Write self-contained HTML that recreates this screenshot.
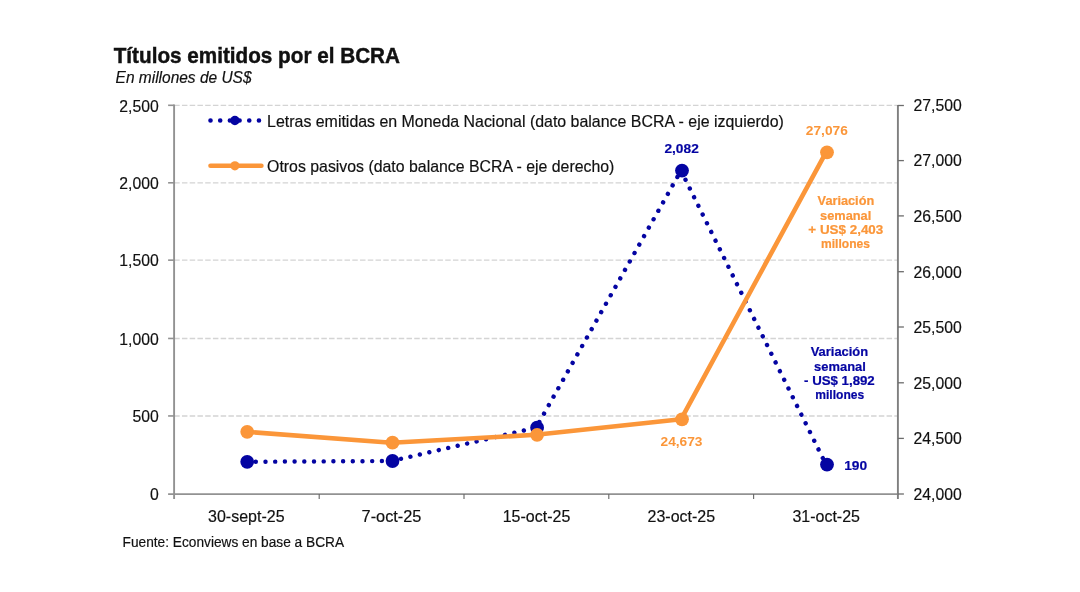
<!DOCTYPE html>
<html lang="es"><head><meta charset="utf-8"><title>Títulos emitidos por el BCRA</title>
<style>html,body{margin:0;padding:0;background:#fff;}body{width:1080px;height:592px;overflow:hidden;font-family:"Liberation Sans",sans-serif;}svg{display:block;}text{font-family:"Liberation Sans",sans-serif;}</style></head><body>
<svg width="1080" height="592" viewBox="0 0 1080 592">
<rect width="1080" height="592" fill="#fff"/>
<line x1="174.2" y1="415.95" x2="897.9" y2="415.95" stroke="#D4D4D4" stroke-width="1.35" stroke-dasharray="5.5 2.243"/>
<line x1="174.2" y1="338.45" x2="897.9" y2="338.45" stroke="#D4D4D4" stroke-width="1.35" stroke-dasharray="5.5 2.243"/>
<line x1="174.2" y1="260.15" x2="897.9" y2="260.15" stroke="#D4D4D4" stroke-width="1.35" stroke-dasharray="5.5 2.243"/>
<line x1="174.2" y1="182.80" x2="897.9" y2="182.80" stroke="#D4D4D4" stroke-width="1.35" stroke-dasharray="5.5 2.243"/>
<line x1="174.2" y1="105.30" x2="897.9" y2="105.30" stroke="#D4D4D4" stroke-width="1.35" stroke-dasharray="5.5 2.243"/>
<line x1="174.1" y1="104.60" x2="174.1" y2="498.90" stroke="#929292" stroke-width="1.9"/>
<line x1="168.1" y1="494.1" x2="897.9" y2="494.1" stroke="#929292" stroke-width="1.9"/>
<line x1="897.9" y1="104.90" x2="897.9" y2="498.90" stroke="#7F7F7F" stroke-width="1.9"/>
<line x1="168.1" y1="415.95" x2="174.1" y2="415.95" stroke="#929292" stroke-width="1.6"/>
<line x1="168.1" y1="338.45" x2="174.1" y2="338.45" stroke="#929292" stroke-width="1.6"/>
<line x1="168.1" y1="260.15" x2="174.1" y2="260.15" stroke="#929292" stroke-width="1.6"/>
<line x1="168.1" y1="182.80" x2="174.1" y2="182.80" stroke="#929292" stroke-width="1.6"/>
<line x1="168.1" y1="105.30" x2="174.1" y2="105.30" stroke="#929292" stroke-width="1.6"/>
<line x1="897.9" y1="494.00" x2="903.9" y2="494.00" stroke="#6C6C6C" stroke-width="1.3"/>
<line x1="897.9" y1="438.40" x2="903.9" y2="438.40" stroke="#6C6C6C" stroke-width="1.3"/>
<line x1="897.9" y1="382.80" x2="903.9" y2="382.80" stroke="#6C6C6C" stroke-width="1.3"/>
<line x1="897.9" y1="327.00" x2="903.9" y2="327.00" stroke="#6C6C6C" stroke-width="1.3"/>
<line x1="897.9" y1="271.70" x2="903.9" y2="271.70" stroke="#6C6C6C" stroke-width="1.3"/>
<line x1="897.9" y1="215.90" x2="903.9" y2="215.90" stroke="#6C6C6C" stroke-width="1.3"/>
<line x1="897.9" y1="160.60" x2="903.9" y2="160.60" stroke="#6C6C6C" stroke-width="1.3"/>
<line x1="897.9" y1="105.50" x2="903.9" y2="105.50" stroke="#6C6C6C" stroke-width="1.3"/>
<line x1="319.20" y1="494.1" x2="319.20" y2="498.90000000000003" stroke="#6A6A6A" stroke-width="1.15"/>
<line x1="464.00" y1="494.1" x2="464.00" y2="498.90000000000003" stroke="#6A6A6A" stroke-width="1.15"/>
<line x1="608.80" y1="494.1" x2="608.80" y2="498.90000000000003" stroke="#6A6A6A" stroke-width="1.15"/>
<line x1="753.60" y1="494.1" x2="753.60" y2="498.90000000000003" stroke="#6A6A6A" stroke-width="1.15"/>
<line x1="246.20" y1="461.80" x2="391.50" y2="461.00" stroke="#0404A2" stroke-width="4.45" stroke-linecap="round" stroke-dasharray="0.01 9.69" stroke-dashoffset="-9.6"/>
<line x1="391.50" y1="461.00" x2="536.10" y2="427.70" stroke="#0404A2" stroke-width="4.45" stroke-linecap="round" stroke-dasharray="0.01 9.69" stroke-dashoffset="-9.7"/>
<line x1="536.10" y1="427.70" x2="681.00" y2="170.60" stroke="#0404A2" stroke-width="4.45" stroke-linecap="round" stroke-dasharray="0.01 9.69" stroke-dashoffset="-6.5"/>
<line x1="681.00" y1="170.60" x2="826.00" y2="464.60" stroke="#0404A2" stroke-width="4.45" stroke-linecap="round" stroke-dasharray="0.01 9.69" stroke-dashoffset="-10.2"/>
<circle cx="247.20" cy="461.80" r="6.9" fill="#0404A2"/>
<circle cx="392.50" cy="461.00" r="6.9" fill="#0404A2"/>
<circle cx="537.10" cy="427.70" r="6.9" fill="#0404A2"/>
<circle cx="682.00" cy="170.60" r="6.9" fill="#0404A2"/>
<circle cx="827.00" cy="464.60" r="6.9" fill="#0404A2"/>
<polyline points="246.20,431.80 391.50,442.70 536.10,434.80 681.00,419.30 826.00,152.30" fill="none" stroke="#FB9639" stroke-width="4.6" stroke-linecap="round" stroke-linejoin="round"/>
<circle cx="247.20" cy="431.80" r="6.9" fill="#FB9639"/>
<circle cx="392.50" cy="442.70" r="6.9" fill="#FB9639"/>
<circle cx="537.10" cy="434.80" r="6.9" fill="#FB9639"/>
<circle cx="682.00" cy="419.30" r="6.9" fill="#FB9639"/>
<circle cx="827.00" cy="152.30" r="6.9" fill="#FB9639"/>
<line x1="210.5" y1="120.5" x2="260" y2="120.5" stroke="#0404A2" stroke-width="4.6" stroke-linecap="round" stroke-dasharray="0.01 9.68"/>
<circle cx="234.9" cy="120.5" r="4.7" fill="#0404A2"/>
<line x1="210.5" y1="165.8" x2="261.4" y2="165.8" stroke="#FB9639" stroke-width="4.6" stroke-linecap="round"/>
<circle cx="234.9" cy="165.8" r="4.6" fill="#FB9639"/>
<text transform="translate(267.10 126.80) scale(0.7966 0.8000)" font-size="20" text-anchor="start" fill="#111" stroke="#111" stroke-width="0.22">Letras emitidas en Moneda Nacional (dato balance BCRA - eje izquierdo)</text>
<text transform="translate(267.10 172.00) scale(0.7936 0.8000)" font-size="20" text-anchor="start" fill="#111" stroke="#111" stroke-width="0.22">Otros pasivos (dato balance BCRA - eje derecho)</text>
<text transform="translate(113.70 62.60) scale(1.0348 1.0650)" font-size="20" text-anchor="start" fill="#111" font-weight="bold" stroke="#111" stroke-width="0.42">Títulos emitidos por el BCRA</text>
<text transform="translate(115.60 82.90) scale(0.7743 0.8000)" font-size="20" text-anchor="start" fill="#111" font-style="italic" stroke="#111" stroke-width="0.22">En millones de US$</text>
<text transform="translate(158.70 500.40) scale(0.7880 0.8500)" font-size="20" text-anchor="end" fill="#111" stroke="#111" stroke-width="0.21">0</text>
<text transform="translate(158.70 422.25) scale(0.7880 0.8500)" font-size="20" text-anchor="end" fill="#111" stroke="#111" stroke-width="0.21">500</text>
<text transform="translate(158.70 344.75) scale(0.7880 0.8500)" font-size="20" text-anchor="end" fill="#111" stroke="#111" stroke-width="0.21">1,000</text>
<text transform="translate(158.70 266.45) scale(0.7880 0.8500)" font-size="20" text-anchor="end" fill="#111" stroke="#111" stroke-width="0.21">1,500</text>
<text transform="translate(158.70 189.10) scale(0.7880 0.8500)" font-size="20" text-anchor="end" fill="#111" stroke="#111" stroke-width="0.21">2,000</text>
<text transform="translate(158.70 111.60) scale(0.7880 0.8500)" font-size="20" text-anchor="end" fill="#111" stroke="#111" stroke-width="0.21">2,500</text>
<text transform="translate(913.60 499.80) scale(0.7880 0.8350)" font-size="20" text-anchor="start" fill="#111" stroke="#111" stroke-width="0.22">24,000</text>
<text transform="translate(913.60 444.20) scale(0.7880 0.8350)" font-size="20" text-anchor="start" fill="#111" stroke="#111" stroke-width="0.22">24,500</text>
<text transform="translate(913.60 388.60) scale(0.7880 0.8350)" font-size="20" text-anchor="start" fill="#111" stroke="#111" stroke-width="0.22">25,000</text>
<text transform="translate(913.60 332.80) scale(0.7880 0.8350)" font-size="20" text-anchor="start" fill="#111" stroke="#111" stroke-width="0.22">25,500</text>
<text transform="translate(913.60 277.50) scale(0.7880 0.8350)" font-size="20" text-anchor="start" fill="#111" stroke="#111" stroke-width="0.22">26,000</text>
<text transform="translate(913.60 221.70) scale(0.7880 0.8350)" font-size="20" text-anchor="start" fill="#111" stroke="#111" stroke-width="0.22">26,500</text>
<text transform="translate(913.60 166.40) scale(0.7880 0.8350)" font-size="20" text-anchor="start" fill="#111" stroke="#111" stroke-width="0.22">27,000</text>
<text transform="translate(913.60 111.30) scale(0.7880 0.8350)" font-size="20" text-anchor="start" fill="#111" stroke="#111" stroke-width="0.22">27,500</text>
<text transform="translate(246.30 521.80) scale(0.8000 0.8150)" font-size="20" text-anchor="middle" fill="#111" stroke="#111" stroke-width="0.22">30-sept-25</text>
<text transform="translate(391.50 521.80) scale(0.8160 0.8150)" font-size="20" text-anchor="middle" fill="#111" stroke="#111" stroke-width="0.22">7-oct-25</text>
<text transform="translate(536.50 521.80) scale(0.8000 0.8150)" font-size="20" text-anchor="middle" fill="#111" stroke="#111" stroke-width="0.22">15-oct-25</text>
<text transform="translate(681.30 521.80) scale(0.8000 0.8150)" font-size="20" text-anchor="middle" fill="#111" stroke="#111" stroke-width="0.22">23-oct-25</text>
<text transform="translate(826.20 521.80) scale(0.8000 0.8150)" font-size="20" text-anchor="middle" fill="#111" stroke="#111" stroke-width="0.22">31-oct-25</text>
<text transform="translate(122.60 547.30) scale(0.6847 0.7335)" font-size="20" text-anchor="start" fill="#111" stroke="#111" stroke-width="0.25">Fuente: Econviews en base a BCRA</text>
<text transform="translate(681.60 152.80) scale(0.6873 0.6050)" font-size="20" text-anchor="middle" fill="#0404A2" font-weight="bold" stroke="#0404A2" stroke-width="0.25">2,082</text>
<text transform="translate(826.80 135.20) scale(0.6866 0.6050)" font-size="20" text-anchor="middle" fill="#FB9639" font-weight="bold">27,076</text>
<text transform="translate(681.50 446.40) scale(0.6866 0.6050)" font-size="20" text-anchor="middle" fill="#FB9639" font-weight="bold">24,673</text>
<text transform="translate(855.70 469.90) scale(0.6893 0.6050)" font-size="20" text-anchor="middle" fill="#0404A2" font-weight="bold" stroke="#0404A2" stroke-width="0.25">190</text>
<text transform="translate(845.90 204.50) scale(0.6364 0.6000)" font-size="20" text-anchor="middle" fill="#FB9639" font-weight="bold" stroke="#FB9639" stroke-width="0.33">Variación</text>
<text transform="translate(845.70 219.70) scale(0.6396 0.6000)" font-size="20" text-anchor="middle" fill="#FB9639" font-weight="bold" stroke="#FB9639" stroke-width="0.33">semanal</text>
<text transform="translate(845.80 234.00) scale(0.6712 0.6000)" font-size="20" text-anchor="middle" fill="#FB9639" font-weight="bold" stroke="#FB9639" stroke-width="0.33">+ US$ 2,403</text>
<text transform="translate(845.50 248.20) scale(0.6039 0.6000)" font-size="20" text-anchor="middle" fill="#FB9639" font-weight="bold" stroke="#FB9639" stroke-width="0.33">millones</text>
<text transform="translate(839.40 355.90) scale(0.6477 0.6000)" font-size="20" text-anchor="middle" fill="#0404A2" font-weight="bold" stroke="#0404A2" stroke-width="0.33">Variación</text>
<text transform="translate(840.00 370.50) scale(0.6471 0.6000)" font-size="20" text-anchor="middle" fill="#0404A2" font-weight="bold" stroke="#0404A2" stroke-width="0.33">semanal</text>
<text transform="translate(839.40 385.00) scale(0.6634 0.6000)" font-size="20" text-anchor="middle" fill="#0404A2" font-weight="bold" stroke="#0404A2" stroke-width="0.33">- US$ 1,892</text>
<text transform="translate(839.70 399.20) scale(0.6039 0.6000)" font-size="20" text-anchor="middle" fill="#0404A2" font-weight="bold" stroke="#0404A2" stroke-width="0.33">millones</text>
</svg></body></html>
